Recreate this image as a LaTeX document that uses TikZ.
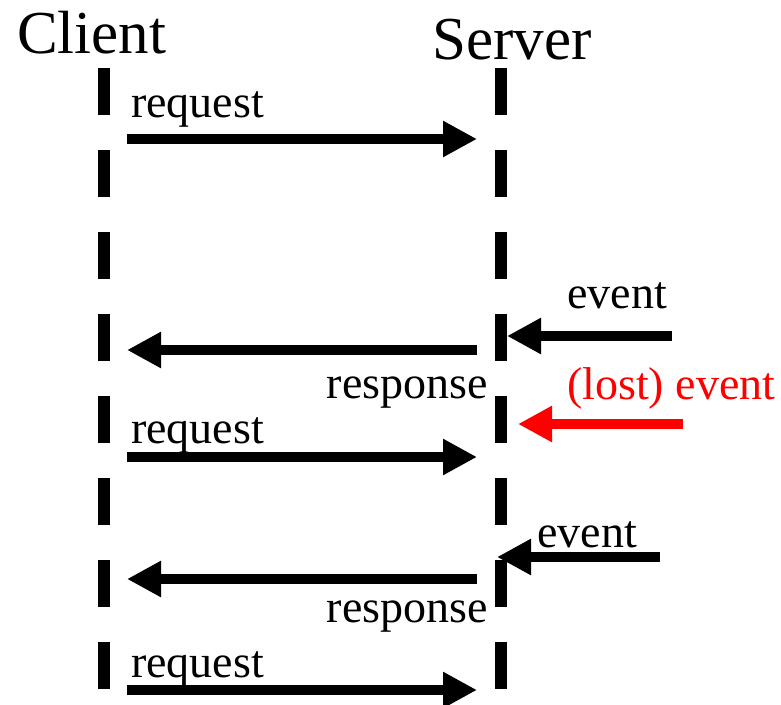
\documentclass[tikz,border=0pt]{standalone}
\usepackage{fontspec}
\setmainfont{Liberation Serif}
\usetikzlibrary{arrows.meta}

\tikzset{
  lifeline/.style={line width=12pt, dash pattern=on 47pt off 35pt},
  msg/.style={line width=10.5pt, -{Triangle[length=34pt,width=34pt]}},
  lostmsg/.style={msg, draw=red},
  lbl/.style={font=\fontsize{46}{50}\selectfont, inner sep=0pt},
  title/.style={font=\fontsize{61}{66}\selectfont, inner sep=0pt, anchor=base west},
}

\begin{document}
\begin{tikzpicture}[x=1pt, y=-1pt]
  \useasboundingbox (0,0) rectangle (781,704);

  % participants
  \node[title] (client) at (17,53) {Client};
  \node[title] (server) at (432,59) {Server};

  % lifelines
  \coordinate (ctop) at (104,68);
  \coordinate (cbot) at (104,689);
  \coordinate (stop) at (501,68);
  \coordinate (sbot) at (501,689);
  \draw[lifeline] (ctop) -- (cbot);
  \draw[lifeline] (stop) -- (sbot);

  % message end points
  \coordinate (req1a) at (127,139);  \coordinate (req1b) at (477,139);
  \coordinate (ev1a)  at (672,336);  \coordinate (ev1b)  at (507,336);
  \coordinate (res1a) at (477,350);  \coordinate (res1b) at (127,350);
  \coordinate (lostA) at (683,424);  \coordinate (lostB) at (518,424);
  \coordinate (req2a) at (127,457);  \coordinate (req2b) at (477,457);
  \coordinate (ev2a)  at (660,557);  \coordinate (ev2b)  at (497,557);
  \coordinate (res2a) at (477,579);  \coordinate (res2b) at (127,579);
  \coordinate (req3a) at (127,690);  \coordinate (req3b) at (477,690);

  % messages
  \draw[msg] (req1a) -- (req1b);
  \draw[msg] (ev1a) -- (ev1b);
  \draw[msg] (res1a) -- (res1b);
  \draw[lostmsg] (lostA) -- (lostB);
  \draw[msg] (req2a) -- (req2b);
  \draw[msg] (ev2a) -- (ev2b);
  \draw[msg] (res2a) -- (res2b);
  \draw[msg] (req3a) -- (req3b);

  % labels
  \node[lbl, anchor=base west] (lreq1) at (131,117) {request};
  \node[lbl, anchor=base west] (lev1)  at (567,308) {event};
  \node[lbl, anchor=base east] (lres1) at (488,398) {response};
  \node[lbl, anchor=base west, text=red] (llost) at (567,399) {(lost) event};
  \node[lbl, anchor=base west] (lreq2) at (131,443) {request};
  \node[lbl, anchor=base west] (lev2)  at (537,547) {event};
  \node[lbl, anchor=base east] (lres2) at (488,622) {response};
  \node[lbl, anchor=base west] (lreq3) at (131,677) {request};
\end{tikzpicture}
\end{document}
